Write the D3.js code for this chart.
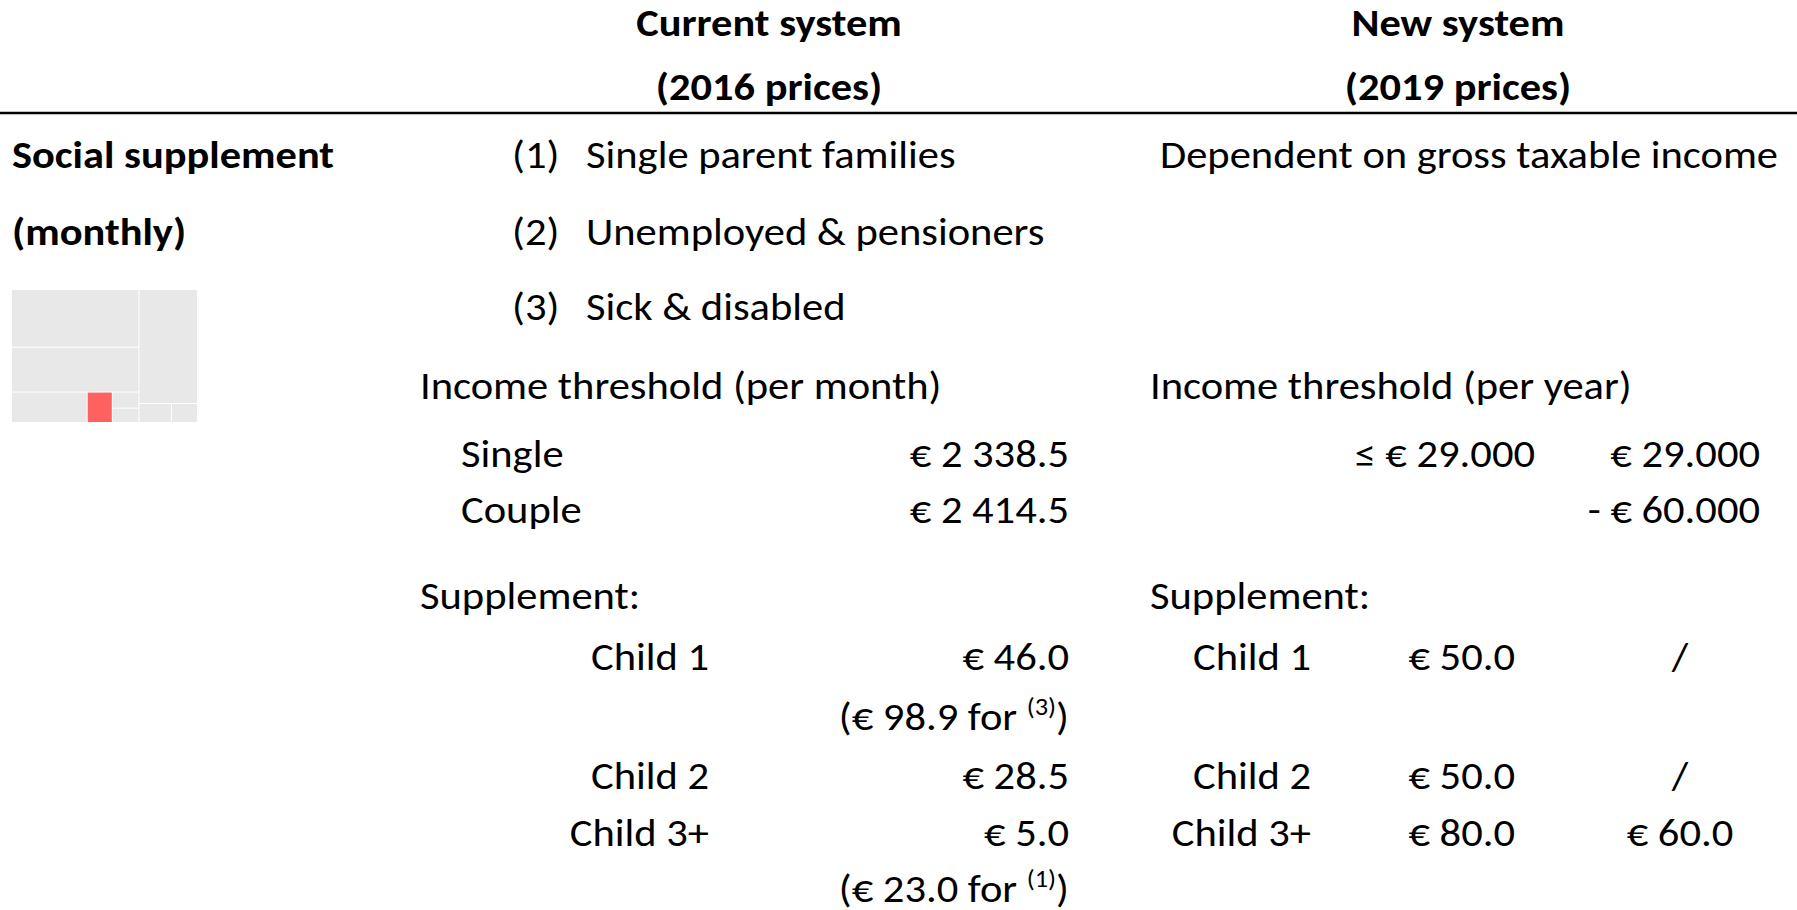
<!DOCTYPE html>
<html><head><meta charset="utf-8">
<script src="https://cdn.jsdelivr.net/npm/d3@7"></script>
<style>
html,body{margin:0;padding:0;background:#fff;overflow:hidden}
svg{display:block}
text{font-family:Carlito,Calibri,Lato,"Open Sans",sans-serif;fill:#000}
</style></head>
<body><svg id="c" width="1797" height="910"></svg>
<script>
// ---------- data ----------
const headerTitles = ["Current system", "New system"];
const headerPrices = ["(2016 prices)", "(2019 prices)"];
const rowTitle = ["Social supplement", "(monthly)"];
const groupNums = ["(1)", "(2)", "(3)"];
const groupNames = ["Single parent families", "Unemployed & pensioners", "Sick & disabled"];
const newBasis = "Dependent on gross taxable income";
const thresholdLabels = ["Income threshold (per month)", "Income threshold (per year)"];
const householdTypes = ["Single", "Couple"];
const currentThresholds = ["€ 2 338.5", "€ 2 414.5"];
const newThresholdLow = ["≤ € 29.000"];
const newThresholdMid = ["€ 29.000", "- € 60.000"];
const supplementLabel = "Supplement:";
const children = ["Child 1", "Child 2", "Child 3+"];
const currentSupp = ["€ 46.0", "€ 28.5", "€ 5.0"];
const currentNotes = [["(€ 98.9 for ", "(3)", ")"], ["(€ 23.0 for ", "(1)", ")"]];
const newSuppLow = ["€ 50.0", "€ 50.0", "€ 80.0"];
const newSuppMid = ["/", "/", "€ 60.0"];
// thumbnail treemap (area shares, highlighted tile "D")
const tileNames  = ["A", "B", "C", "D", "E", "F", "G", "H", "I"];
const tileValues = [65.4, 50.9, 20.5, 6.8, 3.8, 3.4, 59.5, 5.5, 4.4];
const tileParent = ["L", "L", "LB", "LB", "LBC", "LBC", "R", "RB", "RB"];
const highlighted = "D";

// ---------- layout ----------
const FS = 38, FSB = 38;
const svg = d3.select("#c");
const g = svg.append("g");

function txt(x, y, s, opts = {}) {
  const t = g.append("text").attr("x", x).attr("y", y)
    .attr("font-size", opts.fs || FS)
    .attr("font-weight", opts.bold ? 700 : 400)
    .attr("text-anchor", opts.anchor || "start");
  if (Array.isArray(s)) {
    t.append("tspan").text(s[0]);
    t.append("tspan").attr("font-size", (opts.fs || FS) * 0.62).attr("dy", -15).text(s[1]);
    t.append("tspan").attr("dy", 15).text(s[2]);
  } else t.text(s);
  return t;
}
const all = [];
function T(...a) { const t = txt(...a); all.push({t, bold: !!(a[3] && a[3].bold)}); return t; }

// headers
const headX = [769, 1458];
headerTitles.forEach((s, i) => T(headX[i], 36, s, {bold: true, anchor: "middle"}));
headerPrices.forEach((s, i) => T(headX[i], 100, s, {bold: true, anchor: "middle"}));
g.append("line").attr("x1", 0).attr("x2", 1797).attr("y1", 113).attr("y2", 113)
  .attr("stroke", "#000").attr("stroke-width", 2.5);

// row title
const rowY = [168, 245, 320];
rowTitle.forEach((s, i) => T(12, rowY[i], s, {bold: true}));
groupNums.forEach((s, i) => T(512, rowY[i], s));
groupNames.forEach((s, i) => T(586, rowY[i], s));
T(1160, rowY[0], newBasis);

// thresholds
const thrY = 399, hhY = [467, 523];
T(420, thrY, thresholdLabels[0]);
T(1150, thrY, thresholdLabels[1]);
householdTypes.forEach((s, i) => T(461, hhY[i], s));
currentThresholds.forEach((s, i) => T(1069, hhY[i], s, {anchor: "end"}));
newThresholdLow.forEach((s, i) => T(1535, hhY[i], s, {anchor: "end"}));
newThresholdMid.forEach((s, i) => T(1760, hhY[i], s, {anchor: "end"}));

// supplements
const supY = 609, childY = [670, 789, 846], noteY = [730, 902];
T(420, supY, supplementLabel);
T(1150, supY, supplementLabel);
children.forEach((s, i) => T(709, childY[i], s, {anchor: "end"}));
currentSupp.forEach((s, i) => T(1069, childY[i], s, {anchor: "end"}));
currentNotes.forEach((s, i) => T(1069, noteY[i], s, {anchor: "end"}));
children.forEach((s, i) => T(1311, childY[i], s, {anchor: "end"}));
newSuppLow.forEach((s, i) => T(1515, childY[i], s, {anchor: "end"}));
newSuppMid.forEach((s, i) => T(1680, childY[i], s, {anchor: "middle"}));

// horizontal compression to match the narrow original typeface
const probe = g.append("text").attr("font-size", FS).text(newBasis);
const kReg = 618 / probe.node().getComputedTextLength();
probe.remove();
const probeB = g.append("text").attr("font-size", FSB).attr("font-weight", 700).text(rowTitle[0]);
const kBold = 322 / probeB.node().getComputedTextLength();
probeB.remove();
all.forEach(({t, bold}) => {
  const w = t.node().getComputedTextLength();
  t.attr("textLength", w * (bold ? kBold : kReg)).attr("lengthAdjust", "spacingAndGlyphs");
});

// thumbnail treemap
const rows = [{id: "root"}, {id: "L", parent: "root"}, {id: "R", parent: "root"},
  {id: "LB", parent: "L"}, {id: "LBC", parent: "LB"}, {id: "RB", parent: "R"}];
tileNames.forEach((n, i) => rows.push({id: n, parent: tileParent[i], value: tileValues[i]}));
const order = ["L","R","A","B","LB","C","D","LBC","E","F","G","RB","H","I"];
const root = d3.stratify().id(d => d.id).parentId(d => d.parent)(rows)
  .sum(d => d.value || 0)
  .sort((a, b) => order.indexOf(a.id) - order.indexOf(b.id));
d3.treemap().tile(d3.treemapSliceDice).size([185, 132]).paddingInner(1).round(false)(root);
const tm = svg.append("g").attr("transform", "translate(12,290)");
tm.selectAll("rect").data(root.leaves()).join("rect")
  .attr("x", d => d.x0).attr("y", d => d.y0)
  .attr("width", d => d.x1 - d.x0).attr("height", d => d.y1 - d.y0)
  .attr("fill", d => d.id === highlighted ? "#ff6161" : "#e8e8e8");
</script></body></html>
